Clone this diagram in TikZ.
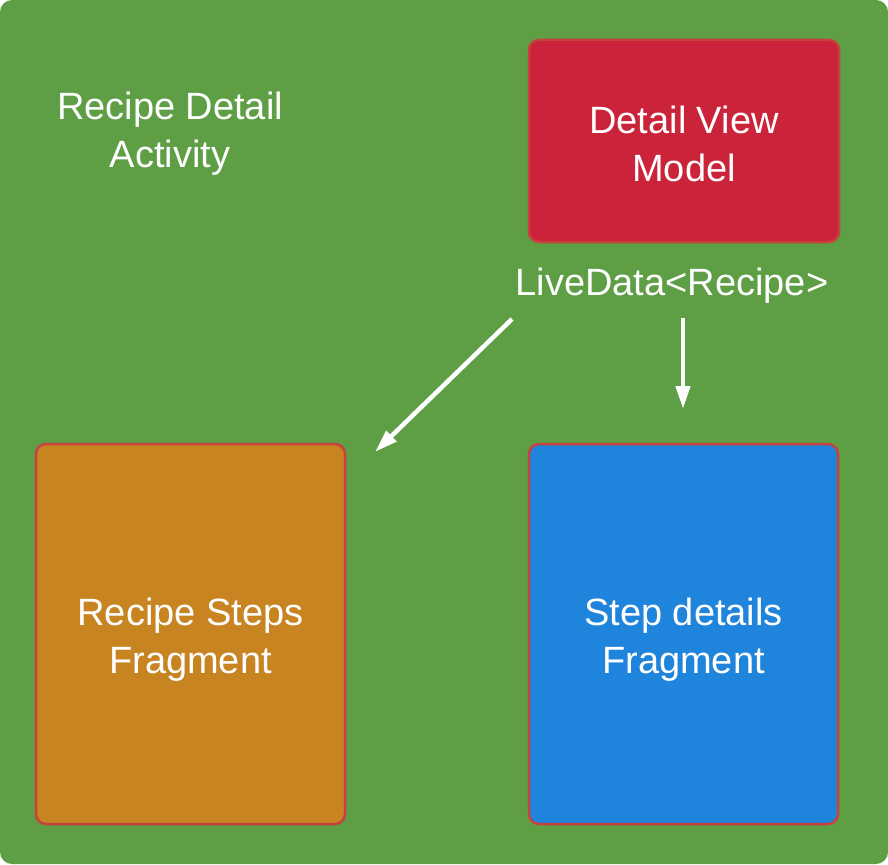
\documentclass[tikz,border=0pt]{standalone}
\usepackage{fontspec}
\setmainfont{Liberation Sans}
\usetikzlibrary{arrows.meta,positioning}
\definecolor{actgreen}{HTML}{5E9E45}
\definecolor{vmred}{HTML}{CB2339}
\definecolor{stepsorange}{HTML}{C98422}
\definecolor{detailblue}{HTML}{1F84DC}
\definecolor{edgered}{HTML}{C8403F}
\tikzset{
    box/.style ={
        shape=rectangle,
        rounded corners=10pt,
        draw=edgered,
        line width=2.5pt,
        inner sep=0pt
    },
    label/.style ={
        text=white,
        align=center,
        inner sep=0pt,
        font=\fontsize{38}{48}\selectfont
    },
    flow/.style ={
        draw=white,
        line width=4.5pt,
        -{Triangle[length=23pt,width=14pt]}
    }
}
\begin{document}
\begin{tikzpicture}[x=1pt,y=-1pt]
    \useasboundingbox (0,0) rectangle (888,864);
    \fill[actgreen, rounded corners=12pt] (0,0) rectangle (888,864);
    \node[label] (activity) at (170,134) {Recipe Detail\\Activity};
    \node[box, fill=vmred, minimum width=310pt, minimum height=202pt] (vm) at (684,141) {};
    \node[label] (vm text) at ([yshift=-3pt]vm.center) {Detail View\\Model};
    \node[label, anchor=base] (live) at (672,295) {LiveData<Recipe>};
    \node[box, fill=stepsorange, minimum width=309pt, minimum height=380pt] (steps) at (190.5,634) {};
    \node[label] (steps text) at ([yshift=-6pt]steps.center) {Recipe Steps\\Fragment};
    \node[box, fill=detailblue, minimum width=309pt, minimum height=380pt] (details) at (683.5,634) {};
    \node[label] (details text) at ([yshift=-6pt]details.center) {Step details\\Fragment};
    % arrow ends stop short of the fragments
    \coordinate (live a) at (512,319);
    \coordinate (live b) at (683,318);
    \coordinate (to steps) at (375,452);
    \coordinate (to details) at (683,409);
    \draw[flow] (live a) -- (to steps);
    \draw[flow] (live b) -- (to details);
\end{tikzpicture}
\end{document}
